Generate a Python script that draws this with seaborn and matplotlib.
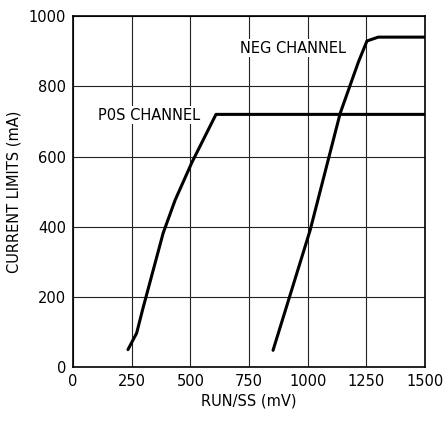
import pandas as pd
import matplotlib
matplotlib.use('Agg')
import matplotlib.pyplot as plt
import seaborn as sns

# Curve data
pos_x = [234, 271, 298, 384, 435, 507, 609, 1500]
pos_y = [50, 97, 168, 382, 476, 584, 720, 720]
neg_x = [852, 1010, 1138, 1215, 1252, 1300, 1500]
neg_y = [48, 390, 723, 868, 929, 940, 940]

x_ticks = [0, 250, 500, 750, 1000, 1250, 1500]
y_ticks = [0, 200, 400, 600, 800, 1000]

df = pd.concat([
    pd.DataFrame({'RUN/SS': pos_x, 'I': pos_y, 'ch': 'POS'}),
    pd.DataFrame({'RUN/SS': neg_x, 'I': neg_y, 'ch': 'NEG'}),
])

sns.set_style('white')
plt.rcParams['font.family'] = ['Liberation Sans Narrow', 'DejaVu Sans']
plt.rcParams['font.size'] = 10
plt.rcParams['text.color'] = 'black'
plt.rcParams['axes.labelcolor'] = 'black'

fig = plt.figure(figsize=(4.48, 4.23), dpi=100)
ax = fig.add_axes([0.163, 0.132, 0.786, 0.830])

sns.lineplot(data=df, x='RUN/SS', y='I', hue='ch', palette={'POS': 'black', 'NEG': 'black'},
             sort=False, estimator=None, linewidth=2.2, legend=False, ax=ax, zorder=3)

ax.set_xlim(0, 1500)
ax.set_ylim(0, 1000)
ax.set_xticks(x_ticks)
ax.set_yticks(y_ticks)
ax.grid(True, color='#222222', linewidth=0.8)
for s in ax.spines.values():
    s.set_color('black')
    s.set_linewidth(1.2)
ax.tick_params(length=0, labelsize=10.5, colors='black', pad=5)

ax.set_xlabel('RUN/SS (mV)', fontsize=10.5, labelpad=3)
ax.set_ylabel('CURRENT LIMITS (mA)', fontsize=10.5, labelpad=5)

ax.text(937, 909, 'NEG CHANNEL', ha='center', va='center', fontsize=10.5, zorder=4,
        bbox=dict(facecolor='white', edgecolor='none', pad=1))
ax.text(324, 718, 'P0S CHANNEL', ha='center', va='center', fontsize=10.5, zorder=4,
        bbox=dict(facecolor='white', edgecolor='none', pad=1))

plt.savefig('out.png', dpi=100)
